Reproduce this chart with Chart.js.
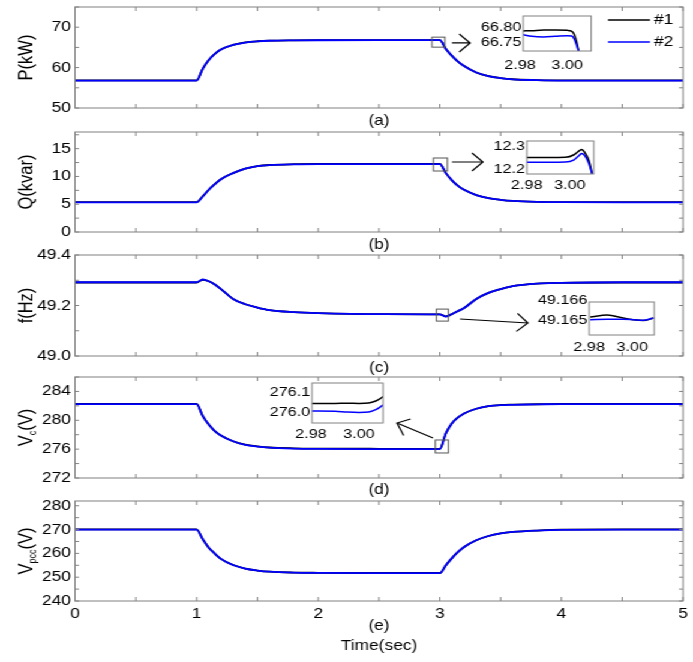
<!DOCTYPE html>
<html>
<head>
<meta charset="utf-8">
<script src="https://cdn.jsdelivr.net/npm/chart.js@4.4.1/dist/chart.umd.min.js"></script>
<style>
  html, body { margin: 0; padding: 0; background: #fff; }
  /* the source figure is stretched sideways, so draw narrow and widen the whole page */
  #page { position: absolute; left: 0; top: 0; width: 578px; height: 662px; transform: scaleX(1.2); transform-origin: 0 0; }
  #page canvas { position: absolute; }
</style>
</head>
<body>
<div id="page"></div>
<script>
// ---- data ----
const time = [0, 1, 1.05, 1.1, 1.15, 1.2, 1.3, 1.4, 1.5, 1.6, 1.8, 2, 2.5, 3, 3.05, 3.1, 3.15, 3.2, 3.3, 3.4, 3.5, 3.6, 3.8, 4, 4.5, 5];

const pOne = [56.83, 56.83, 59.7, 61.9, 63.4, 64.5, 65.6, 66.22, 66.52, 66.67, 66.76, 66.79, 66.79, 66.79, 64.6, 62.9, 61.5, 60.4, 58.8, 57.9, 57.42, 57.12, 56.92, 56.83, 56.83, 56.83];
const pTwo = [56.8, 56.8, 59.7, 61.9, 63.4, 64.5, 65.6, 66.2, 66.5, 66.65, 66.74, 66.77, 66.78, 66.78, 64.6, 62.9, 61.5, 60.4, 58.8, 57.9, 57.4, 57.1, 56.9, 56.8, 56.8, 56.8];

const qOne = [5.37, 5.37, 6.4, 7.6, 8.6, 9.5, 10.6, 11.4, 11.86, 12.06, 12.2, 12.24, 12.25, 12.25, 10.6, 9.3, 8.3, 7.6, 6.65, 6.1, 5.8, 5.6, 5.43, 5.38, 5.37, 5.37];
const qTwo = [5.35, 5.35, 6.4, 7.6, 8.6, 9.5, 10.6, 11.4, 11.85, 12.05, 12.18, 12.22, 12.23, 12.23, 10.6, 9.3, 8.3, 7.6, 6.65, 6.1, 5.8, 5.6, 5.42, 5.37, 5.35, 5.35];

const fOne = [49.291, 49.291, 49.302, 49.296, 49.283, 49.265, 49.226, 49.205, 49.192, 49.182, 49.174, 49.170, 49.166, 49.165, 49.157, 49.166, 49.178, 49.190, 49.226, 49.250, 49.265, 49.277, 49.287, 49.290, 49.291, 49.291];
const fTwo = [49.292, 49.292, 49.303, 49.296, 49.283, 49.265, 49.226, 49.205, 49.192, 49.182, 49.174, 49.170, 49.166, 49.165, 49.156, 49.166, 49.178, 49.190, 49.226, 49.250, 49.265, 49.277, 49.287, 49.290, 49.292, 49.292];

const vcOne = [282.27, 282.27, 280.6, 279.4, 278.5, 277.9, 277.1, 276.62, 276.38, 276.23, 276.12, 276.08, 276.05, 276.04, 278.2, 279.6, 280.4, 280.95, 281.6, 281.97, 282.12, 282.17, 282.22, 282.27, 282.27, 282.27];
const vcTwo = [282.25, 282.25, 280.6, 279.4, 278.5, 277.9, 277.1, 276.6, 276.35, 276.2, 276.08, 276.04, 276.01, 276.0, 278.2, 279.6, 280.4, 280.95, 281.6, 281.95, 282.1, 282.15, 282.2, 282.25, 282.25, 282.25];

const vpccOne = [270.05, 270.05, 266.0, 262.4, 259.9, 257.7, 255.1, 253.6, 252.8, 252.3, 251.95, 251.85, 251.75, 251.75, 255.0, 258.0, 260.6, 262.7, 265.5, 267.3, 268.4, 269.0, 269.6, 269.95, 270.05, 270.05];
const vpccTwo = [270, 270, 266.0, 262.4, 259.9, 257.7, 255.1, 253.6, 252.8, 252.3, 251.9, 251.8, 251.7, 251.7, 255.0, 258.0, 260.6, 262.7, 265.5, 267.3, 268.4, 269.0, 269.6, 269.9, 270, 270];

// zoomed windows around t = 3 s
const pZoomTime = [2.981, 2.985, 2.99, 2.995, 3.0, 3.002, 3.003, 3.004, 3.005];
const pZoomOne = [66.787, 66.788, 66.790, 66.790, 66.789, 66.786, 66.775, 66.750, 66.715];
const pZoomTwo = [66.775, 66.769, 66.767, 66.769, 66.771, 66.770, 66.760, 66.740, 66.715];

const qZoomTime = [2.98, 2.99, 2.998, 3.002, 3.0045, 3.0055, 3.007, 3.009, 3.0105];
const qZoomOne = [12.250, 12.250, 12.251, 12.262, 12.280, 12.285, 12.272, 12.235, 12.175];
const qZoomTwo = [12.229, 12.229, 12.230, 12.240, 12.260, 12.267, 12.258, 12.222, 12.175];

const fZoomTime = [2.9805, 2.9884, 2.9958, 3.0005, 3.0051, 3.0098];
const fZoomOne = [49.16517, 49.16527, 49.16512, 49.16504, 49.16500, 49.16512];
const fZoomTwo = [49.16504, 49.16506, 49.16506, 49.16504, 49.16501, 49.16512];

const vcZoomTime = [2.9804, 2.99, 2.995, 3.0, 3.004, 3.007, 3.0085, 3.01];
const vcZoomOne = [276.043, 276.043, 276.044, 276.043, 276.045, 276.055, 276.064, 276.077];
const vcZoomTwo = [276.005, 276.004, 276.000, 275.998, 276.000, 276.012, 276.022, 276.035];

// tick labels
const timeTicks = [0, 1, 2, 3, 4, 5];
const pTicks = [50, 60, 70];
const qTicks = [0, 5, 10, 15];
const fTicks = [49.0, 49.2, 49.4];
const vcTicks = [272, 276, 280, 284];
const vpccTicks = [240, 250, 260, 270, 280];
const zoomTimeTicks = [2.98, 3.00];
const pZoomTicks = [66.75, 66.80];
const qZoomTicks = [12.2, 12.3];
const fZoomTicks = [49.165, 49.166];
const vcZoomTicks = [276.0, 276.1];

// ---- drawing ----
const FONT = "'Liberation Sans', Arial, sans-serif";
const S = 1.2;            // sideways stretch of the page
const PAGE_W = 578;
const PLOT_R = 683 / S;
const page = document.getElementById('page');

function makeCanvas(left, top, w, h) {
  const c = document.createElement('canvas');
  c.width = w;
  c.height = h;
  c.style.left = left + 'px';
  c.style.top = top + 'px';
  c.style.width = w + 'px';
  c.style.height = h + 'px';
  page.appendChild(c);
  return c.getContext('2d');
}

function pts(xs, ys) {
  return xs.map((x, i) => ({x: x, y: ys[i]}));
}

function inList(list, v) {
  return list.some(t => Math.abs(t - v) < 1e-6);
}

// evenly spaced tick marks from min to max (labels come from the lists above)
function stepTicks(s, step) {
  const out = [];
  const n = Math.round((s.max - s.min) / step);
  for (let i = 0; i <= n; i++) out.push({value: +(s.min + i * step).toFixed(6)});
  s.ticks = out;
}

function noPad(s) {
  s.paddingTop = 0; s.paddingBottom = 0; s.paddingLeft = 0; s.paddingRight = 0;
}

// box round the plot, with short inward ticks like matlab
const framePlugin = {
  id: 'frame',
  afterDatasetsDraw(chart, args, o) {
    const {ctx, chartArea: a} = chart;
    ctx.save();
    ctx.strokeStyle = o.color || '#808080';
    ctx.lineWidth = 1;
    if (o.ticks) {
      const L = 4;
      ctx.beginPath();
      chart.scales.x.ticks.forEach(t => {
        const p = chart.scales.x.getPixelForValue(t.value);
        ctx.moveTo(p, a.bottom); ctx.lineTo(p, a.bottom - L);
        ctx.moveTo(p, a.top); ctx.lineTo(p, a.top + L);
      });
      chart.scales.y.ticks.forEach(t => {
        const p = chart.scales.y.getPixelForValue(t.value);
        ctx.moveTo(a.left, p); ctx.lineTo(a.left + L / S, p);
        ctx.moveTo(a.right, p); ctx.lineTo(a.right - L / S, p);
      });
      ctx.stroke();
    }
    ctx.strokeRect(a.left, a.top, a.width, a.height);
    ctx.restore();
  }
};

// y title with optional subscript parts: [text, size, dy]
const yTitlePlugin = {
  id: 'yTitle',
  afterDraw(chart, args, o) {
    if (!o.parts) return;
    const {ctx, chartArea: a} = chart;
    ctx.save();
    ctx.translate(o.x, (a.top + a.bottom) / 2);
    ctx.rotate(-Math.PI / 2);
    ctx.fillStyle = '#000';
    ctx.textBaseline = 'middle';
    let total = 0;
    o.parts.forEach(p => { ctx.font = p[1] + 'px ' + FONT; total += ctx.measureText(p[0]).width; });
    let pos = -total / 2;
    o.parts.forEach(p => {
      ctx.font = p[1] + 'px ' + FONT;
      ctx.fillText(p[0], pos, p[2]);
      pos += ctx.measureText(p[0]).width;
    });
    ctx.restore();
  }
};

// little square round the zoomed spot and the arrow to the inset
const marksPlugin = {
  id: 'marks',
  afterDatasetsDraw(chart, args, o) {
    const {ctx} = chart;
    const xs = chart.scales.x, ys = chart.scales.y;
    ctx.save();
    if (o.box) {
      const cx = xs.getPixelForValue(o.box.x), cy = ys.getPixelForValue(o.box.y);
      const w = o.box.w / S, h = o.box.h;
      ctx.strokeStyle = '#555';
      ctx.lineWidth = 1;
      ctx.strokeRect(cx - w / 2, cy - h / 2, w, h);
    }
    if (o.arrow) {
      const x1 = xs.getPixelForValue(o.arrow.x1), y1 = ys.getPixelForValue(o.arrow.y1);
      const x2 = xs.getPixelForValue(o.arrow.x2), y2 = ys.getPixelForValue(o.arrow.y2);
      const dx = (x2 - x1) * S, dy = y2 - y1, len = Math.hypot(dx, dy);
      const ux = dx / len, uy = dy / len;
      const hl = 11, hw = 9;
      const bx = x2 * S - ux * hl, by = y2 - uy * hl;
      ctx.strokeStyle = '#000';
      ctx.lineWidth = 1.2;
      ctx.beginPath();
      ctx.moveTo(x1, y1); ctx.lineTo(x2, y2);
      ctx.moveTo((bx - uy * hw) / S, by + ux * hw);
      ctx.lineTo(x2, y2);
      ctx.lineTo((bx + uy * hw) / S, by - ux * hw);
      ctx.stroke();
    }
    ctx.restore();
  }
};

const keyPlugin = {
  id: 'key',
  afterDraw(chart, args, o) {
    if (!o.show) return;
    const {ctx, chartArea: a} = chart;
    const sets = chart.data.datasets.slice().sort((p, q) => p.label < q.label ? -1 : 1);
    ctx.save();
    ctx.font = '14.5px ' + FONT;
    ctx.textBaseline = 'middle';
    sets.forEach((d, i) => {
      const y = a.top + 13 + i * 22;
      ctx.strokeStyle = d.borderColor;
      ctx.lineWidth = 1.5;
      ctx.beginPath();
      ctx.moveTo(a.right - 75 / S, y);
      ctx.lineTo(a.right - 33 / S, y);
      ctx.stroke();
      ctx.fillStyle = '#000';
      ctx.fillText(d.label, a.right - 29 / S, y);
    });
    ctx.restore();
  }
};

function panel(p) {
  const head = 9;   // room above the plot for the top tick label
  const ctx = makeCanvas(0, p.plotTop - head, PAGE_W, head + p.plotH + p.xH);
  return new Chart(ctx, {
    type: 'line',
    data: {
      datasets: [
        {label: '#1', data: pts(time, p.one), borderColor: '#000000', order: 1},
        {label: '#2', data: pts(time, p.two), borderColor: '#0000ff', order: 0}
      ]
    },
    options: {
      responsive: false,
      animation: false,
      events: [],
      layout: {padding: {top: head, right: PAGE_W - PLOT_R, left: 0, bottom: 0}},
      elements: {
        line: {borderWidth: 1.8, cubicInterpolationMode: 'monotone', fill: false},
        point: {radius: 0}
      },
      plugins: {
        legend: {display: false},
        tooltip: {enabled: false},
        frame: {color: '#808080', ticks: true},
        yTitle: {x: 27 / S, parts: p.title},
        marks: p.marks,
        key: {show: !!p.key}
      },
      scales: {
        x: {
          type: 'linear', min: 0, max: 5,
          grid: {display: false, drawTicks: false},
          border: {display: false},
          ticks: {
            display: !!p.showX, autoSkip: false, maxRotation: 0,
            padding: 4, color: '#000', font: {family: FONT, size: 14.5},
            callback: v => inList(timeTicks, v) ? String(v) : ''
          },
          title: {display: true, text: p.xTitle, color: '#000', padding: 0, font: {family: FONT, size: 14.5, lineHeight: '20px'}},
          afterBuildTicks: s => stepTicks(s, 0.5),
          afterFit: s => { s.height = p.xH; noPad(s); }
        },
        y: {
          type: 'linear', min: p.yMin, max: p.yMax,
          grid: {display: false, drawTicks: false},
          border: {display: false},
          ticks: {
            autoSkip: false,
            padding: 4 / S, color: '#000', font: {family: FONT, size: 14.5},
            callback: v => inList(p.yTicks, v) ? v.toFixed(p.yDigits) : ''
          },
          afterBuildTicks: s => stepTicks(s, p.yStep),
          afterFit: s => { s.width = 75 / S; noPad(s); }
        }
      }
    },
    plugins: [framePlugin, yTitlePlugin, marksPlugin, keyPlugin]
  });
}

function inset(p) {
  const yw = 48, rp = 16, tp = 10, xh = 26;
  const bl = p.box[0] / S, bw = p.box[2] / S;
  const w = Math.ceil(yw + bw + rp);
  const ctx = makeCanvas(bl - yw, p.box[1] - tp, w, tp + p.box[3] + xh);
  return new Chart(ctx, {
    type: 'line',
    data: {
      datasets: [
        {label: '#1', data: pts(p.t, p.one), borderColor: '#000000', order: 1, clip: 0},
        {label: '#2', data: pts(p.t, p.two), borderColor: '#0000ff', order: 0, clip: 0}
      ]
    },
    options: {
      responsive: false,
      animation: false,
      events: [],
      layout: {padding: {top: tp, right: w - yw - bw, left: 0, bottom: 0}},
      elements: {
        line: {borderWidth: 1.5, cubicInterpolationMode: 'monotone', fill: false},
        point: {radius: 0}
      },
      plugins: {
        legend: {display: false},
        tooltip: {enabled: false},
        frame: {color: '#808080', ticks: false}
      },
      scales: {
        x: {
          type: 'linear', min: p.xMin, max: p.xMax,
          grid: {display: false, drawTicks: false},
          border: {display: false},
          ticks: {autoSkip: false, maxRotation: 0, padding: p.xPad, color: '#000', font: {family: FONT, size: 13.5},
            callback: v => v.toFixed(2)},
          afterBuildTicks: s => { s.ticks = zoomTimeTicks.map(v => ({value: v})); },
          afterFit: s => { s.height = xh; noPad(s); }
        },
        y: {
          type: 'linear', min: p.yMin, max: p.yMax,
          grid: {display: false, drawTicks: false},
          border: {display: false},
          ticks: {autoSkip: false, padding: 1.5, color: '#000', font: {family: FONT, size: 13.5},
            callback: v => v.toFixed(p.yDigits)},
          afterBuildTicks: s => { s.ticks = p.yTicks.map(v => ({value: v})); },
          afterFit: s => { s.width = yw; noPad(s); }
        }
      }
    },
    plugins: [framePlugin]
  });
}

panel({
  plotTop: 7, plotH: 101, xH: 23, xTitle: '(a)', one: pOne, two: pTwo,
  yMin: 50, yMax: 75, yStep: 5, yTicks: pTicks, yDigits: 0,
  title: [['P(kW)', 16.5, 0]], key: true,
  marks: {box: {x: 2.989, y: 66.3, w: 13, h: 10}, arrow: {x1: 3.10, y1: 66.1, x2: 3.25, y2: 66.1}}
});
panel({
  plotTop: 132, plotH: 100, xH: 23, xTitle: '(b)', one: qOne, two: qTwo,
  yMin: 0, yMax: 18, yStep: 2.5, yTicks: qTicks, yDigits: 0,
  title: [['Q(kvar)', 16.5, 0]],
  marks: {box: {x: 3.005, y: 12.15, w: 14, h: 13}, arrow: {x1: 3.10, y1: 12.6, x2: 3.355, y2: 12.6}}
});
panel({
  plotTop: 255, plotH: 101, xH: 22, xTitle: '(c)', one: fOne, two: fTwo,
  yMin: 49.0, yMax: 49.4, yStep: 0.1, yTicks: fTicks, yDigits: 1,
  title: [['f(Hz)', 16.5, 0]],
  marks: {box: {x: 3.021, y: 49.162, w: 12, h: 12}, arrow: {x1: 3.166, y1: 49.1465, x2: 3.725, y2: 49.1307}}
});
panel({
  plotTop: 377, plotH: 101, xH: 22, xTitle: '(d)', one: vcOne, two: vcTwo,
  yMin: 272, yMax: 286, yStep: 2, yTicks: vcTicks, yDigits: 0,
  title: [['V', 16.5, 0], ['c', 9, 5], ['(V)', 16.5, 0]],
  marks: {box: {x: 3.017, y: 276.37, w: 13, h: 13}, arrow: {x1: 2.944, y1: 277.54, x2: 2.648, y2: 279.62}}
});
panel({
  plotTop: 501, plotH: 100, xH: 55, xTitle: ['(e)', 'Time(sec)'], one: vpccOne, two: vpccTwo, showX: true,
  yMin: 240, yMax: 282, yStep: 5, yTicks: vpccTicks, yDigits: 0,
  title: [['V', 16.5, 0], ['pcc', 9, 5], ['(V)', 16.5, 0]],
  marks: {}
});

inset({box: [523, 16, 68, 35], t: pZoomTime, one: pZoomOne, two: pZoomTwo,
  xMin: 2.9813, xMax: 3.0102, yMin: 66.72, yMax: 66.837, yTicks: pZoomTicks, yDigits: 2, xPad: 6});
inset({box: [527, 141, 67, 33], t: qZoomTime, one: qZoomOne, two: qZoomTwo,
  xMin: 2.98, xMax: 3.0112, yMin: 12.178, yMax: 12.322, yTicks: qZoomTicks, yDigits: 1, xPad: 3});
inset({box: [589, 302, 65, 33], t: fZoomTime, one: fZoomOne, two: fZoomTwo,
  xMin: 2.98, xMax: 3.0102, yMin: 49.1643, yMax: 49.1659, yTicks: fZoomTicks, yDigits: 3, xPad: 4});
inset({box: [312, 383, 71, 40], t: vcZoomTime, one: vcZoomOne, two: vcZoomTwo,
  xMin: 2.9804, xMax: 3.0100, yMin: 275.945, yMax: 276.145, yTicks: vcZoomTicks, yDigits: 1, xPad: 3});
</script>
</body>
</html>
